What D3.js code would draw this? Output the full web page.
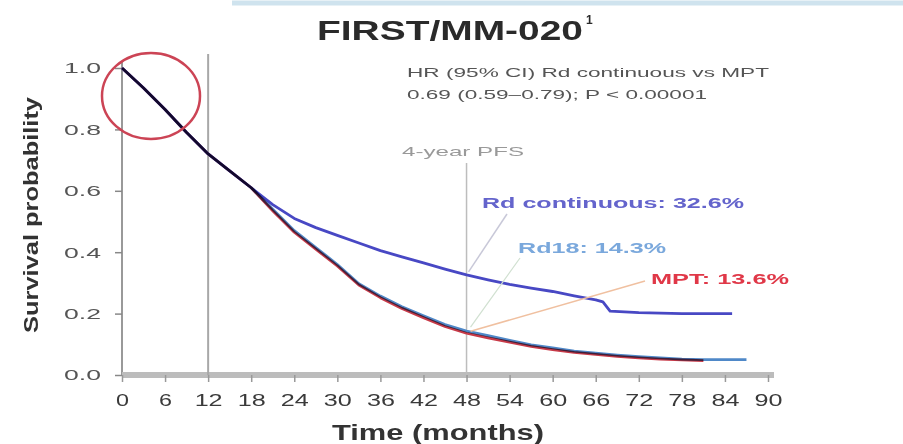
<!DOCTYPE html>
<html>
<head>
<meta charset="utf-8">
<script src="https://cdn.jsdelivr.net/npm/d3@7"></script>
<style>
  html, body { margin: 0; padding: 0; background: #fff; }
  svg { display: block; }
</style>
</head>
<body>
<div id="chart"></div>
<script>
// ---------------- data ----------------
const xTicks = [0, 6, 12, 18, 24, 30, 36, 42, 48, 54, 60, 66, 72, 78, 84, 90];
const yTicks = [0, 0.2, 0.4, 0.6, 0.8, 1.0];
const yTickLabels = ["0.0", "0.2", "0.4", "0.6", "0.8", "1.0"];

const rdContMonths = [0, 3, 6, 9, 12, 15, 18, 21, 24, 27, 30, 33, 36, 39, 42, 45, 48, 51, 54, 57, 60, 63, 66, 67, 68, 72, 78, 85];
const rdContSurv   = [1.0, 0.935, 0.865, 0.79, 0.72, 0.665, 0.61, 0.555, 0.51, 0.48, 0.455, 0.43, 0.405, 0.385, 0.365, 0.345, 0.326, 0.31, 0.295, 0.283, 0.272, 0.258, 0.245, 0.238, 0.208, 0.203, 0.2, 0.2];

const rd18Months = [0, 3, 6, 9, 12, 15, 18, 21, 24, 27, 30, 33, 36, 39, 42, 45, 48, 51, 54, 57, 60, 63, 66, 69, 72, 75, 78, 81, 84, 87];
const rd18Surv   = [1.0, 0.935, 0.865, 0.79, 0.72, 0.665, 0.61, 0.54, 0.47, 0.415, 0.36, 0.297, 0.257, 0.222, 0.193, 0.164, 0.143, 0.128, 0.113, 0.098, 0.088, 0.078, 0.071, 0.065, 0.06, 0.056, 0.052, 0.05, 0.05, 0.05];

const mptMonths = [0, 3, 6, 9, 12, 15, 18, 21, 24, 27, 30, 33, 36, 39, 42, 45, 48, 51, 54, 57, 60, 63, 66, 69, 72, 75, 78, 81];
const mptSurv   = [1.0, 0.935, 0.865, 0.79, 0.72, 0.665, 0.61, 0.535, 0.465, 0.41, 0.355, 0.293, 0.252, 0.217, 0.187, 0.158, 0.136, 0.121, 0.107, 0.093, 0.083, 0.074, 0.067, 0.061, 0.056, 0.052, 0.049, 0.047];

const seriesNames = ["MPT", "Rd18", "Rd continuous"];
const seriesLabels = ["MPT: 13.6%", "Rd18: 14.3%", "Rd continuous: 32.6%"];
const colors = { "Rd continuous": "#4848c4", "Rd18": "#4f88c8", "MPT": "#c83a48" };

// ---------------- layout ----------------
const W = 903, H = 444;
const svg = d3.select("#chart").append("svg").attr("width", W).attr("height", H);

const x = d3.scaleLinear().domain([0, 90]).range([122, 768]);
const y = d3.scaleLinear().domain([0, 1]).range([375, 68]);

function txt(s, px, py, o) {
  const t = svg.append("text")
    .attr("x", px).attr("y", py)
    .attr("font-family", o.family || "Liberation Sans, Arial, sans-serif")
    .attr("font-size", o.size)
    .attr("font-weight", o.weight || "normal")
    .attr("fill", o.fill || "#444")
    .attr("text-anchor", o.anchor || "start")
    .attr("dominant-baseline", "central")
    .text(s);
  if (o.len) t.attr("textLength", o.len).attr("lengthAdjust", "spacingAndGlyphs");
  if (o.rotate) t.attr("transform", `rotate(${o.rotate},${px},${py})`);
  return t;
}

// top border strip
svg.append("line").attr("x1", 232).attr("x2", 903).attr("y1", 3).attr("y2", 3)
  .attr("stroke", "#cfe3ee").attr("stroke-width", 5);

// title
txt("FIRST/MM-020", 450, 30, { size: 28, weight: "bold", fill: "#2a2a2a", anchor: "middle", len: 266 });
txt("1", 586, 20, { size: 12, weight: "bold", fill: "#2a2a2a", anchor: "start" });

// y axis
const yAxis = d3.axisLeft(y).tickValues(yTicks).tickFormat((d, i) => yTickLabels[i]).tickSize(7);
const gy = svg.append("g").attr("transform", `translate(${x(0)},0)`).call(yAxis);
gy.select(".domain").attr("stroke", "#999").attr("stroke-width", 2).attr("d", `M0,${y(1) - 6}V${y(0)}`);
gy.selectAll(".tick line").attr("stroke", "#888").attr("stroke-width", 1.5);
gy.selectAll(".tick text")
  .attr("font-family", "Liberation Sans, Arial, sans-serif").attr("font-size", 15)
  .attr("fill", "#555").attr("x", -21)
  .attr("textLength", 37).attr("lengthAdjust", "spacingAndGlyphs");

// x axis
const xAxis = d3.axisBottom(x).tickValues(xTicks).tickSize(7).tickPadding(12);
const gx = svg.append("g").attr("transform", `translate(0,${y(0)})`).call(xAxis);
gx.select(".domain").attr("stroke", "#bcbcbc").attr("stroke-width", 6).attr("d", `M${x(0)},0H${x(90) + 6}`);
gx.selectAll(".tick line").attr("stroke", "#999").attr("stroke-width", 1.5);
gx.selectAll(".tick text")
  .attr("font-family", "Liberation Sans, Arial, sans-serif").attr("font-size", 17)
  .attr("fill", "#3a3a3a")
  .attr("textLength", d => d < 10 ? 13 : 28).attr("lengthAdjust", "spacingAndGlyphs");

// axis titles
txt("Survival probability", 30, 215, { size: 21, weight: "bold", fill: "#333", anchor: "middle", len: 236, rotate: -90 });
txt("Time (months)", 438, 432, { size: 22, weight: "bold", fill: "#333", anchor: "middle", len: 212 });

// reference lines
svg.append("line").attr("x1", x(12)).attr("x2", x(12)).attr("y1", 54).attr("y2", y(0))
  .attr("stroke", "#a8a8a8").attr("stroke-width", 2);
svg.append("line").attr("x1", x(48)).attr("x2", x(48)).attr("y1", 163).attr("y2", y(0))
  .attr("stroke", "#bdbdbd").attr("stroke-width", 1.5);

// curves
const line = d3.line().x(d => x(d[0])).y(d => y(d[1]));
const seriesData = {
  "MPT": d3.zip(mptMonths, mptSurv),
  "Rd18": d3.zip(rd18Months, rd18Surv),
  "Rd continuous": d3.zip(rdContMonths, rdContSurv)
};
const cg = svg.append("g").style("isolation", "isolate");
seriesNames.forEach(n => {
  cg.append("path").datum(seriesData[n]).attr("d", line)
    .attr("fill", "none").attr("stroke", colors[n]).attr("stroke-width", 2.8)
    .attr("stroke-linejoin", "round").style("mix-blend-mode", "multiply");
});

// red circle
svg.append("ellipse").attr("cx", 151).attr("cy", 96).attr("rx", 49).attr("ry", 43)
  .attr("fill", "none").attr("stroke", "#cc4455").attr("stroke-width", 2.5);

// annotations
txt("HR (95% CI) Rd continuous vs MPT", 407, 72, { size: 13, fill: "#555", len: 362 });
txt("0.69 (0.59\u20130.79); P < 0.00001", 407, 94, { size: 13, fill: "#555", len: 300 });
txt("4-year PFS", 402, 151, { size: 13, fill: "#999", len: 122 });

// leader lines
svg.append("line").attr("x1", 507).attr("y1", 214).attr("x2", x(48) + 2).attr("y2", y(0.326) - 3)
  .attr("stroke", "#c8c8d8").attr("stroke-width", 1.5);
svg.append("line").attr("x1", 520).attr("y1", 258).attr("x2", x(48) + 4).attr("y2", y(0.143) - 4)
  .attr("stroke", "#d0e0d0").attr("stroke-width", 1.2);
svg.append("line").attr("x1", 645).attr("y1", 281).attr("x2", x(48) + 4).attr("y2", y(0.136) - 2)
  .attr("stroke", "#f0c0a0").attr("stroke-width", 1.5);

// series labels
txt(seriesLabels[2], 482, 203, { size: 14, weight: "bold", fill: "#6464cc", len: 262 });
txt(seriesLabels[1], 518, 248, { size: 14, weight: "bold", fill: "#7aa8dc", len: 148 });
txt(seriesLabels[0], 651, 279, { size: 14, weight: "bold", fill: "#e03848", len: 138 });
</script>
</body>
</html>
